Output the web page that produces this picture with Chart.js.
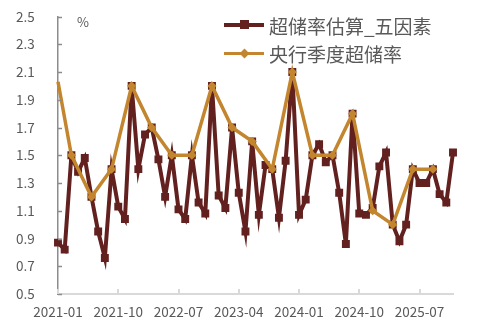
<!DOCTYPE html>
<html>
<head>
<meta charset="utf-8">
<script src="https://cdn.jsdelivr.net/npm/chart.js@4.4.1/dist/chart.umd.min.js"></script>
<style>
body{margin:0;background:#fff}
#wrap{position:relative;width:504px;height:326px}
.lg{position:absolute;left:224px;font:19px "Noto Sans CJK SC";color:#595959;display:flex;align-items:center;height:22px}
.lg .ln{position:relative;width:40px;height:3.5px;margin-right:5px}
.lg .mk{position:absolute;left:16px;top:-3px;width:9px;height:9px}
#pct{position:absolute;left:77px;top:12px;font:13px "Noto Sans CJK SC";color:#595959}
</style>
</head>
<body>
<div id="wrap">
<canvas id="c" width="504" height="326"></canvas>
<span id="pct">%</span>
<div class="lg" style="top:14px"><span class="ln" style="background:#62201f"><span class="mk" style="background:#62201f"></span></span>超储率估算_五因素</div>
<div class="lg" style="top:42px"><span class="ln" style="background:#c3862e;height:3px"><span class="mk" style="background:#c3862e;transform:rotate(45deg);width:7px;height:7px;top:-2px;left:17px"></span></span>央行季度超储率</div>
</div>
<script>
// months 2021-01 .. 2025-12
const months=[]
for(let y=2021;y<=2025;y++){for(let m=1;m<=12;m++){months.push(y+'-'+String(m).padStart(2,'0'))}}

// 超储率估算_五因素 (monthly)
const estimate=[0.87,0.82,1.50,1.38,1.48,1.20,0.95,0.76,1.40,1.13,1.04,2.00,
  1.40,1.65,1.70,1.47,1.20,1.50,1.11,1.04,1.50,1.16,1.08,2.00,
  1.21,1.12,1.70,1.23,0.95,1.60,1.07,1.43,1.40,1.05,1.46,2.10,
  1.07,1.18,1.50,1.58,1.45,1.50,1.23,0.86,1.80,1.08,1.07,1.12,
  1.42,1.52,1.00,0.88,1.00,1.40,1.30,1.30,1.40,1.22,1.16,1.52]

// 央行季度超储率 (quarterly)
const pbocMonths=['2021-01','2021-03','2021-06','2021-09','2021-12','2022-03','2022-06','2022-09','2022-12',
  '2023-03','2023-06','2023-09','2023-12','2024-03','2024-06','2024-09','2024-12','2025-03','2025-06','2025-09']
const pbocValues=[2.03,1.5,1.2,1.4,2.0,1.7,1.5,1.5,2.0,1.7,1.6,1.4,2.1,1.5,1.5,1.8,1.1,1.0,1.4,1.4]

const yTicks=[0.5,0.7,0.9,1.1,1.3,1.5,1.7,1.9,2.1,2.3,2.5]

const innerTicks={
  id:'innerTicks',
  afterDraw(chart){
    const ctx=chart.ctx, x=chart.scales.x, y=chart.scales.y
    ctx.save()
    ctx.strokeStyle='#8c8c8c';ctx.lineWidth=1.5
    yTicks.forEach(v=>{const py=Math.round(y.getPixelForValue(v))+0.5
      ctx.beginPath();ctx.moveTo(x.left,py);ctx.lineTo(x.left+4,py);ctx.stroke()})
    ctx.strokeStyle='#d9d9d9';ctx.lineWidth=2
    months.forEach((m,i)=>{if(i%9)return
      const px=Math.round(x.getPixelForValue(i))
      ctx.beginPath();ctx.moveTo(px,y.bottom);ctx.lineTo(px,y.bottom-5);ctx.stroke()})
    ctx.restore()
  }
}

const chart=new Chart(document.getElementById('c'),{
  type:'line',
  data:{
    labels:months,
    datasets:[
      {label:'超储率估算_五因素',data:estimate,borderColor:'#62201f',backgroundColor:'#62201f',
        borderWidth:4,pointStyle:'rect',pointRadius:5.6,pointBorderWidth:0,order:1,tension:0},
      {label:'央行季度超储率',data:pbocMonths.map((m,i)=>({x:m,y:pbocValues[i]})),borderColor:'#c3862e',backgroundColor:'#c3862e',
        borderWidth:3.5,pointStyle:'rectRot',pointRadius:ctx=>ctx.dataIndex===0?0:4.6,pointBorderWidth:0,order:0,spanGaps:true,tension:0}
    ]
  },
  options:{
    responsive:false,animation:false,
    layout:{padding:{top:16.5,right:51,bottom:0,left:16}},
    plugins:{legend:{display:false},tooltip:{enabled:false}},
    scales:{
      x:{type:'category',offset:false,
        grid:{display:false,drawTicks:false},
        border:{display:true,color:'#d9d9d9',width:2},
        afterFit:s=>{s.height=32},
        ticks:{autoSkip:false,maxRotation:0,padding:10,color:'#595959',font:{family:'Noto Sans CJK SC',size:13.5},
          callback:function(v,i){return i%9===0?this.getLabelForValue(v):null}}},
      y:{min:0.5,max:2.5,
        grid:{display:false,drawTicks:false},
        border:{display:true,color:'#8c8c8c',width:1.5},
        afterFit:s=>{s.width=42},
        afterBuildTicks:s=>{s.ticks=yTicks.map(v=>({value:v}))},
        ticks:{padding:0,crossAlign:'far',color:'#595959',font:{family:'Noto Sans CJK SC',size:13.5},callback:v=>v.toFixed(1)}}
    }
  },
  plugins:[innerTicks]
})
</script>
</body>
</html>
